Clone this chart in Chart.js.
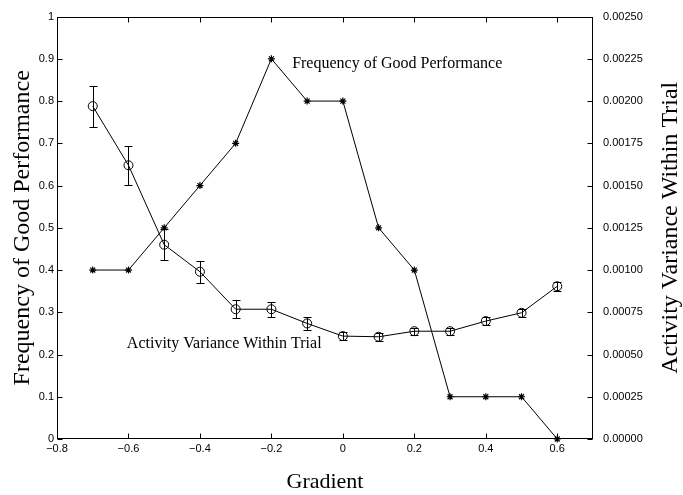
<!DOCTYPE html>
<html><head><meta charset="utf-8">
<script src="https://cdn.jsdelivr.net/npm/chart.js@4/dist/chart.umd.min.js"></script>
<style>html,body{margin:0;padding:0;background:#fff}#wrap{width:683px;height:495px;position:relative}</style>
</head><body><div id="wrap"><canvas id="c"></canvas></div>
<script>
// ---- data ----
const gradients = [-0.7, -0.6, -0.5, -0.4, -0.3, -0.2, -0.1, 0.0, 0.1, 0.2, 0.3, 0.4, 0.5, 0.6];
const goodPerformanceFreq = [0.4, 0.4, 0.5, 0.6, 0.7, 0.9, 0.8, 0.8, 0.5, 0.4, 0.1, 0.1, 0.1, 0.0];
const activityVariance = [0.00197, 0.00162, 0.00115, 0.00099, 0.000768, 0.000768, 0.000684, 0.000609, 0.000605, 0.000638, 0.000638, 0.000698, 0.000747, 0.000904];
const activityVarianceErr = [0.000122, 0.000116, 0.00009, 0.000065, 0.000052, 0.000045, 0.000038, 0.000024, 0.000024, 0.00002, 0.00002, 0.000022, 0.000024, 0.000028];
const xRange = [-0.8, 0.7];
const leftRange = [0, 1];
const rightRange = [0, 0.0025];
const xTitle = 'Gradient';
const leftTitle = 'Frequency of Good Performance';
const rightTitle = 'Activity Variance Within Trial';
const labelFreq = {text: 'Frequency of Good Performance', x: -0.142, y: 0.879};
const labelVar = {text: 'Activity Variance Within Trial', x: -0.6045, y: 0.215};

const SERIF = '"Liberation Serif", "Times New Roman", serif';
const SANS = '"Liberation Sans", Arial, sans-serif';
const minus = s => s.replace('-', '\u2212');

const decor = {
  id: 'decor',
  afterDatasetsDraw(chart) {
    const {ctx, chartArea: a, scales: {x, y, y2}} = chart;
    ctx.save();
    ctx.strokeStyle = '#000';
    ctx.lineWidth = 1;
    // error bars
    gradients.forEach((g, i) => {
      const px = Math.round(x.getPixelForValue(g)) + 0.5;
      const lo = Math.round(y2.getPixelForValue(activityVariance[i] - activityVarianceErr[i])) + 0.5;
      const hi = Math.round(y2.getPixelForValue(activityVariance[i] + activityVarianceErr[i])) + 0.5;
      ctx.beginPath();
      ctx.moveTo(px, lo); ctx.lineTo(px, hi);
      ctx.moveTo(px - 4, lo); ctx.lineTo(px + 4, lo);
      ctx.moveTo(px - 4, hi); ctx.lineTo(px + 4, hi);
      ctx.stroke();
    });
    // box
    const L = Math.round(a.left) + 0.5, T = Math.round(a.top) + 0.5;
    const R = Math.round(a.right) - 0.5, B = Math.round(a.bottom) - 0.5;
    ctx.strokeRect(L, T, R - L, B - T);
    // inward ticks
    ctx.beginPath();
    x.ticks.forEach(t => {
      const px = Math.round(x.getPixelForValue(t.value)) + 0.5;
      ctx.moveTo(px, B); ctx.lineTo(px, B - 5);
      ctx.moveTo(px, T); ctx.lineTo(px, T + 5);
    });
    y.ticks.forEach(t => {
      const py = Math.round(y.getPixelForValue(t.value)) + 0.5;
      ctx.moveTo(L, py); ctx.lineTo(L + 5, py);
    });
    y2.ticks.forEach(t => {
      const py = Math.round(y2.getPixelForValue(t.value)) + 0.5;
      ctx.moveTo(R, py); ctx.lineTo(R - 5, py);
    });
    ctx.stroke();
    // in-plot labels
    ctx.fillStyle = '#000';
    ctx.font = '16px ' + SERIF;
    ctx.textAlign = 'left';
    ctx.textBaseline = 'alphabetic';
    [labelFreq, labelVar].forEach(l => {
      ctx.fillText(l.text, x.getPixelForValue(l.x), y.getPixelForValue(l.y));
    });
    // right axis title (reads bottom-to-top)
    ctx.font = '24px ' + SERIF;
    ctx.translate(671, (a.top + a.bottom) / 2);
    ctx.rotate(-Math.PI / 2);
    ctx.textAlign = 'center';
    ctx.textBaseline = 'middle';
    ctx.fillText(rightTitle, 0, 0);
    ctx.restore();
  }
};

const points = (ys) => gradients.map((g, i) => ({x: g, y: ys[i]}));

new Chart(document.getElementById('c'), {
  type: 'scatter',
  data: {
    datasets: [
      {
        label: leftTitle,
        data: points(goodPerformanceFreq),
        yAxisID: 'y',
        showLine: true,
        borderColor: '#000',
        borderWidth: 1,
        pointStyle: 'star',
        pointRadius: 3.5,
        pointBorderColor: '#000',
        pointBorderWidth: 1.2,
        pointBackgroundColor: '#000',
        clip: false
      },
      {
        label: rightTitle,
        data: points(activityVariance),
        yAxisID: 'y2',
        showLine: true,
        borderColor: '#000',
        borderWidth: 1,
        pointStyle: 'circle',
        pointRadius: 4.5,
        pointBorderColor: '#000',
        pointBorderWidth: 1,
        pointBackgroundColor: 'rgba(0,0,0,0)',
        clip: false
      }
    ]
  },
  options: {
    responsive: true,
    maintainAspectRatio: false,
    devicePixelRatio: 1,
    animation: false,
    events: [],
    layout: {padding: {top: 16, left: 0, right: 0, bottom: 0}},
    plugins: {legend: {display: false}, tooltip: {enabled: false}},
    scales: {
      x: {
        type: 'linear', position: 'bottom',
        min: xRange[0], max: xRange[1],
        grid: {display: false, drawTicks: false},
        border: {display: false},
        ticks: {
          stepSize: 0.2, includeBounds: false, padding: 3, color: '#000',
          font: {family: SANS, size: 11},
          callback: v => Math.abs(v) < 1e-9 ? '0' : minus(String(parseFloat(v.toFixed(1))))
        },
        title: {display: true, text: xTitle, color: '#000', font: {family: SERIF, size: 22, lineHeight: 1.2}, padding: {top: 0, bottom: 0}},
        afterFit: s => { s.height = 56; }
      },
      y: {
        type: 'linear', position: 'left',
        min: leftRange[0], max: leftRange[1],
        grid: {display: false, drawTicks: false},
        border: {display: false},
        ticks: {
          stepSize: 0.1, padding: 3, color: '#000',
          font: {family: SANS, size: 11},
          callback: v => Math.abs(v) < 1e-9 ? '0' : String(parseFloat(v.toFixed(1)))
        },
        title: {display: true, text: leftTitle, color: '#000', font: {family: SERIF, size: 24, lineHeight: 1.2}, padding: {top: 8, bottom: 0}},
        afterFit: s => { s.width = 57; }
      },
      y2: {
        type: 'linear', position: 'right',
        min: rightRange[0], max: rightRange[1],
        grid: {display: false, drawTicks: false},
        border: {display: false},
        ticks: {
          stepSize: 0.00025, padding: 10, color: '#000',
          font: {family: SANS, size: 11},
          callback: v => v.toFixed(5)
        },
        afterFit: s => { s.width = 90; }
      }
    }
  },
  plugins: [decor]
});
</script>
</body></html>
